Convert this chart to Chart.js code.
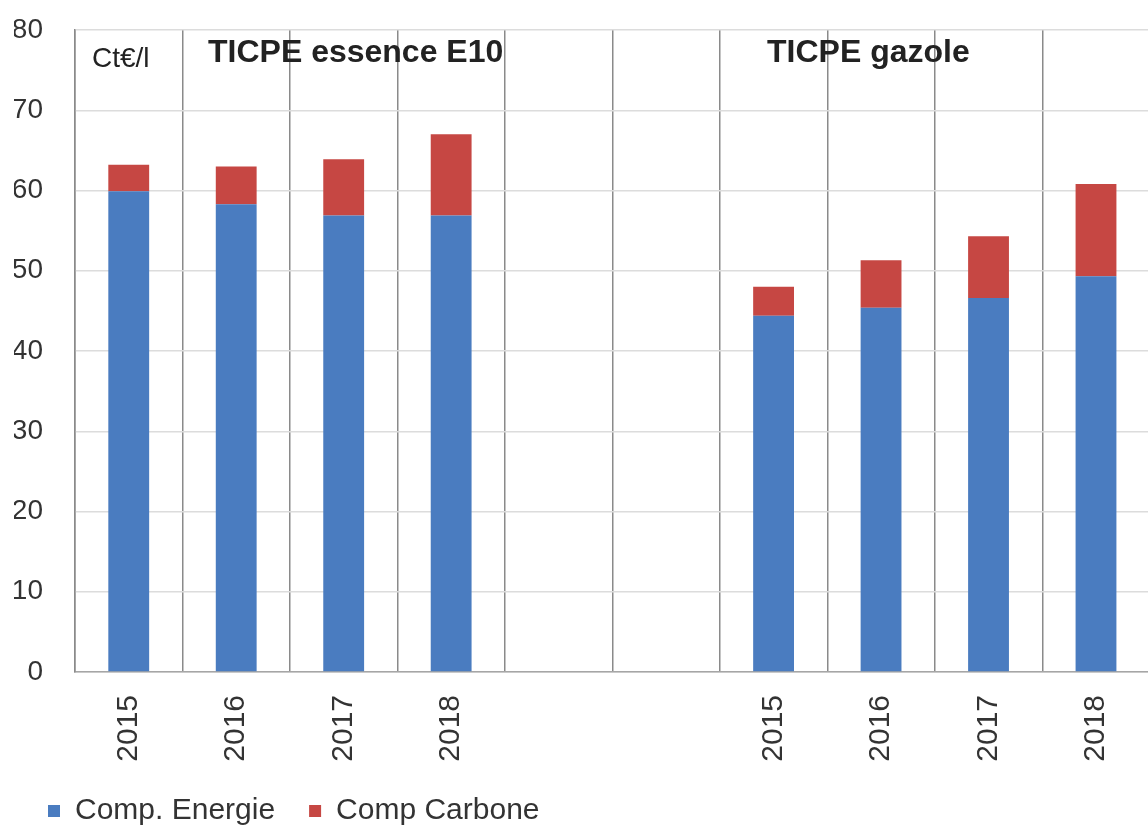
<!DOCTYPE html>
<html>
<head>
<meta charset="utf-8">
<script src="https://cdn.jsdelivr.net/npm/chart.js@4/dist/chart.umd.min.js"></script>
<style>
  html, body { margin: 0; padding: 0; background: #fff; overflow: hidden; }
  canvas { display: block; }
</style>
</head>
<body>
<canvas id="ticpe" width="1155" height="830"></canvas>
<script>
// valeurs (ct€/l)
const years = ["2015", "2016", "2017", "2018"];
const energieEssence = [59.9, 58.3, 56.9, 56.9];
const carboneEssence = [3.3, 4.7, 7.0, 10.1];
const energieGazole = [44.4, 45.4, 46.6, 49.3];
const carboneGazole = [3.6, 5.9, 7.7, 11.5];
const yTicks = [0, 10, 20, 30, 40, 50, 60, 70, 80];

const gap = ["", ""];
const labels = [...years, ...gap, ...years];
const energie = [...energieEssence, null, null, ...energieGazole];
const carbone = [...carboneEssence, null, null, ...carboneGazole];

const annotations = {
  id: "annotations",
  afterDraw(chart) {
    const { ctx, chartArea } = chart;
    ctx.save();
    ctx.textBaseline = "middle";
    ctx.textAlign = "left";
    ctx.fillStyle = "#222";
    ctx.font = "28px 'Liberation Sans', Arial, sans-serif";
    ctx.fillText("Ct€/l", chartArea.left + 17, 59);
    ctx.font = "bold 32px 'Liberation Sans', Arial, sans-serif";
    ctx.fillText("TICPE essence E10", chartArea.left + 133, 53);
    ctx.fillText("TICPE gazole", chartArea.left + 692, 53);
    ctx.restore();
  },
};

const ctx = document.getElementById("ticpe");

new Chart(ctx, {
  type: "bar",
  data: {
    labels: labels,
    datasets: [
      {
        label: "Comp. Energie",
        data: energie,
        backgroundColor: "#4a7cc0",
        borderWidth: 0,
      },
      {
        label: "Comp Carbone",
        data: carbone,
        backgroundColor: "#c64743",
        borderWidth: 0,
      },
    ],
  },
  options: {
    responsive: false,
    animation: false,
    layout: { padding: { left: 14, top: 0, right: 0, bottom: 0 } },
    datasets: {
      bar: { categoryPercentage: 1, barPercentage: 0.38 },
    },
    scales: {
      x: {
        stacked: true,
        offset: true,
        afterFit(scale) { scale.height = 90; },
        grid: {
          offset: true,
          color: "#8a8a8a",
          lineWidth: 1.5,
          drawTicks: false,
        },
        border: { color: "#a6a6a6", width: 1.5 },
        ticks: {
          minRotation: 90,
          maxRotation: 90,
          padding: 23,
          color: "#333",
          font: { family: "'Liberation Sans', Arial, sans-serif", size: 30 },
        },
      },
      y: {
        stacked: true,
        min: 0,
        max: 80,
        afterFit(scale) {
          scale.width = 61;
          scale.paddingTop = 30;
          scale.paddingBottom = 0;
        },
        afterBuildTicks(scale) { scale.ticks = yTicks.map((v) => ({ value: v })); },
        grid: { color: "#dcdcdc", lineWidth: 1.5, drawTicks: false },
        border: { color: "#8a8a8a", width: 1.5 },
        ticks: {
          padding: 32,
          color: "#333",
          font: { family: "'Liberation Sans', Arial, sans-serif", size: 28 },
        },
      },
    },
    plugins: {
      tooltip: { enabled: false },
      legend: {
        position: "bottom",
        align: "start",
        maxHeight: 68,
        labels: {
          boxWidth: 12,
          boxHeight: 12,
          padding: 34,
          color: "#333",
          font: { family: "'Liberation Sans', Arial, sans-serif", size: 30 },
        },
      },
    },
  },
  plugins: [annotations],
});
</script>
</body>
</html>
